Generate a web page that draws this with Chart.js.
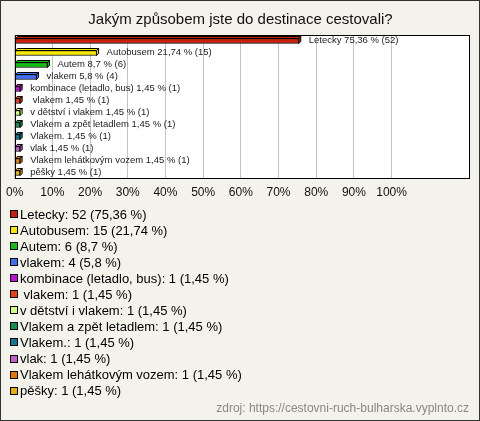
<!DOCTYPE html>
<html>
<head>
<meta charset="utf-8">
<script src="https://cdn.jsdelivr.net/npm/chart.js@4"></script>
<style>
  html, body { margin: 0; padding: 0; background: #f3f2eb; }
  #wrap { width: 480px; height: 421px; }
</style>
</head>
<body>
<div id="wrap"><canvas id="c" width="480" height="421"></canvas></div>
<script>
const title = 'Jakým způsobem jste do destinace cestovali?';
const labels = ['Letecky', 'Autobusem', 'Autem', 'vlakem', 'kombinace (letadlo, bus)', ' vlakem',
  'v dětství i vlakem', 'Vlakem a zpět letadlem', 'Vlakem.', 'vlak', 'Vlakem lehátkovým vozem', 'pěšky'];
const counts = [52, 15, 6, 4, 1, 1, 1, 1, 1, 1, 1, 1];
const percents = [75.36, 21.74, 8.7, 5.8, 1.45, 1.45, 1.45, 1.45, 1.45, 1.45, 1.45, 1.45];
const colors = ['#c8200c', '#f8e800', '#10c010', '#4070f0', '#c010d8', '#e84010',
  '#d0ff80', '#109050', '#107890', '#c060c8', '#e87800', '#e8b000'];
const xTicks = [0, 10, 20, 30, 40, 50, 60, 70, 80, 90, 100];
const source = 'zdroj: https://cestovni-ruch-bulharska.vyplnto.cz';

const FONT = 'Arial, "Liberation Sans", sans-serif';
const fmt = v => String(v).replace('.', ',');

// background, outer border, white plot area
const frame = {
  id: 'frame',
  beforeDraw(chart) {
    const { ctx, chartArea: a } = chart;
    ctx.save();
    ctx.fillStyle = '#f3f2eb';
    ctx.fillRect(0, 0, chart.width, chart.height);
    ctx.fillStyle = '#ffffff';
    ctx.fillRect(a.left, a.top, a.right - a.left, a.bottom - a.top);
    ctx.strokeStyle = '#333';
    ctx.lineWidth = 1;
    ctx.strokeRect(0.5, 0.5, chart.width - 1, chart.height - 1);
    ctx.restore();
  },
  afterDraw(chart) {
    const { ctx, chartArea: a } = chart;
    ctx.save();
    ctx.strokeStyle = '#000';
    ctx.lineWidth = 1;
    ctx.strokeRect(Math.round(a.left) + 0.5, Math.round(a.top) + 0.5,
      Math.round(a.right - a.left) - 1, Math.round(a.bottom - a.top) - 1);
    ctx.restore();
  }
};

// 3d cap on each bar + value label
const bars3d = {
  id: 'bars3d',
  afterDatasetsDraw(chart) {
    const { ctx } = chart;
    const meta = chart.getDatasetMeta(0);
    const d = 2;
    ctx.save();
    meta.data.forEach((bar, i) => {
      const x0 = bar.base, x1 = bar.x;
      const y0 = bar.y - bar.height / 2, y1 = bar.y + bar.height / 2;
      ctx.fillStyle = colors[i];
      ctx.strokeStyle = '#000';
      ctx.lineWidth = 1;
      ctx.beginPath();
      ctx.moveTo(x0, y0); ctx.lineTo(x0 + d, y0 - d); ctx.lineTo(x1 + d, y0 - d); ctx.lineTo(x1, y0);
      ctx.closePath(); ctx.fill(); ctx.stroke();
      ctx.beginPath();
      ctx.moveTo(x1, y0); ctx.lineTo(x1 + d, y0 - d); ctx.lineTo(x1 + d, y1 - d); ctx.lineTo(x1, y1);
      ctx.closePath(); ctx.fill(); ctx.stroke();

      ctx.fillStyle = '#222';
      ctx.font = '9.5px ' + FONT;
      ctx.textBaseline = 'middle';
      ctx.textAlign = 'left';
      ctx.fillText(labels[i] + ' ' + fmt(percents[i]) + ' % (' + counts[i] + ')', x1 + 10, bar.y - 1);
    });
    ctx.restore();
  }
};

// legend list and source line
const listLegend = {
  id: 'listLegend',
  afterDraw(chart) {
    const { ctx } = chart;
    ctx.save();
    ctx.font = '13px ' + FONT;
    ctx.textBaseline = 'middle';
    ctx.textAlign = 'left';
    labels.forEach((l, i) => {
      const y = 214 + i * 16.06;
      ctx.fillStyle = colors[i];
      ctx.fillRect(10, Math.round(y) - 4, 7, 7);
      ctx.strokeStyle = '#000';
      ctx.strokeRect(10.5, Math.round(y) - 3.5, 7, 7);
      ctx.fillStyle = '#000';
      ctx.fillText(l + ': ' + counts[i] + ' (' + fmt(percents[i]) + ' %)', 20, y + 1);
    });
    ctx.font = '12px ' + FONT;
    ctx.fillStyle = '#888';
    ctx.textAlign = 'right';
    ctx.fillText(source, 469, 409);
    ctx.restore();
  }
};

new Chart(document.getElementById('c'), {
  type: 'bar',
  data: {
    labels: labels,
    datasets: [{
      data: percents,
      backgroundColor: colors,
      borderColor: '#000',
      borderWidth: 1,
      borderSkipped: false,
      barThickness: 5
    }]
  },
  options: {
    indexAxis: 'y',
    responsive: false,
    animation: false,
    layout: { padding: { top: 0, left: 11, right: 10, bottom: 212 } },
    plugins: {
      legend: { display: false },
      tooltip: { enabled: false },
      title: {
        display: true,
        text: title,
        color: '#111',
        font: { size: 15, family: FONT, weight: 'normal' },
        padding: { top: 11, bottom: 6 }
      }
    },
    scales: {
      x: {
        min: 0,
        max: 120.8,
        border: { display: false },
        grid: { color: '#c4c4c4', drawTicks: false },
        afterBuildTicks: axis => { axis.ticks = xTicks.map(v => ({ value: v })); },
        afterFit: scale => { scale.height = 30; },
        ticks: {
          padding: 6,
          color: '#111',
          font: { size: 12, family: FONT },
          callback: v => v + '%'
        }
      },
      y: {
        display: false,
        offset: true
      }
    }
  },
  plugins: [frame, bars3d, listLegend]
});
</script>
</body>
</html>
